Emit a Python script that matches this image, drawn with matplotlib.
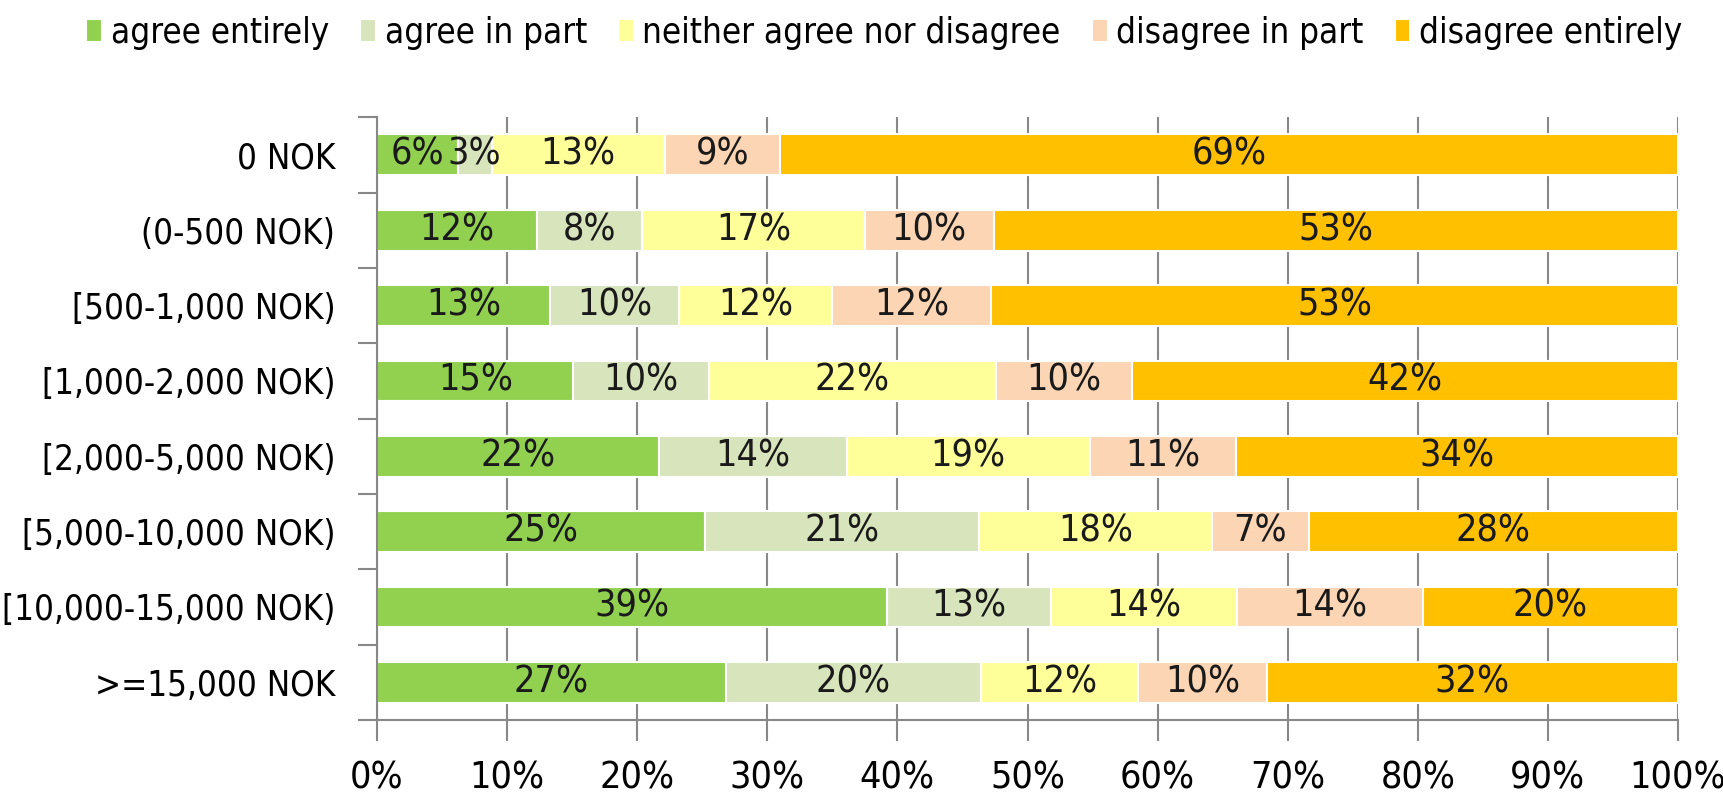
import matplotlib
matplotlib.use('Agg')
import matplotlib.pyplot as plt
import numpy as np

plt.rcParams['font.family'] = ['DejaVu Sans']
plt.rcParams['font.stretch'] = 'condensed'

categories = ['0 NOK', '(0-500 NOK)', '[500-1,000 NOK)', '[1,000-2,000 NOK)',
              '[2,000-5,000 NOK)', '[5,000-10,000 NOK)', '[10,000-15,000 NOK)',
              '>=15,000 NOK']
series = ['agree entirely', 'agree in part', 'neither agree nor disagree',
          'disagree in part', 'disagree entirely']
colors = ['#92D050', '#D8E4BC', '#FFFF99', '#FCD5B4', '#FFC000']

agree_entirely = [6.2, 12.3, 13.3, 15.1, 21.7, 25.2, 39.2, 26.8]
agree_part = [2.6, 8.1, 9.9, 10.4, 14.4, 21.1, 12.6, 19.6]
neither = [13.3, 17.1, 11.8, 22.1, 18.7, 17.9, 14.3, 12.1]
disagree_part = [8.9, 9.9, 12.2, 10.4, 11.2, 7.4, 14.3, 9.9]
disagree_entirely = [69.0, 52.6, 52.8, 42.0, 34.0, 28.4, 19.6, 31.6]

data = [agree_entirely, agree_part, neither, disagree_part, disagree_entirely]

fig = plt.figure(figsize=(17.24, 7.97), dpi=100)
ax = fig.add_axes([0.2187, 0.0966, 0.7546, 0.7564])

y = np.arange(len(categories))
left = np.zeros(len(categories))
for name, vals, c in zip(series, data, colors):
    vals = np.array(vals)
    ax.barh(y, vals, left=left, height=0.54, color=c, edgecolor='white',
            linewidth=1.5, label=name, zorder=2)
    for yi, l, v in zip(y, left, vals):
        ax.text(l + v / 2, yi, f'{v:.0f}%', ha='center', va='center',
                fontsize=27, color='#1a1a1a', zorder=3)
    left += vals

ax.set_xlim(0, 100)
ax.set_ylim(len(categories) - 0.5, -0.5)
ax.set_xticks(np.arange(0, 101, 10))
ax.set_xticklabels([f'{t}%' for t in range(0, 101, 10)], fontsize=27)
ax.set_yticks(y)
ax.set_yticklabels(categories, fontsize=25)
ax.set_yticks(np.arange(-0.5, len(categories), 1), minor=True)

ax.tick_params(axis='y', which='major', length=0, pad=30)
ax.tick_params(axis='y', which='minor', length=14, color='#888888', width=1.5)
ax.tick_params(axis='x', which='major', length=15, color='#888888', width=1.5,
               pad=14)
ax.xaxis.grid(True, color='#888888', linewidth=1.5, zorder=0)
ax.set_axisbelow(True)

for s in ['top', 'right']:
    ax.spines[s].set_visible(False)
for s in ['left', 'bottom']:
    ax.spines[s].set_color('#888888')
    ax.spines[s].set_linewidth(1.5)

fig.legend(loc='center', bbox_to_anchor=(0.513, 0.959), ncol=5, frameon=False,
           fontsize=25, handlelength=0.45, handleheight=0.65, handletextpad=0.25,
           columnspacing=0.9)

plt.savefig('out.png', dpi=100)
